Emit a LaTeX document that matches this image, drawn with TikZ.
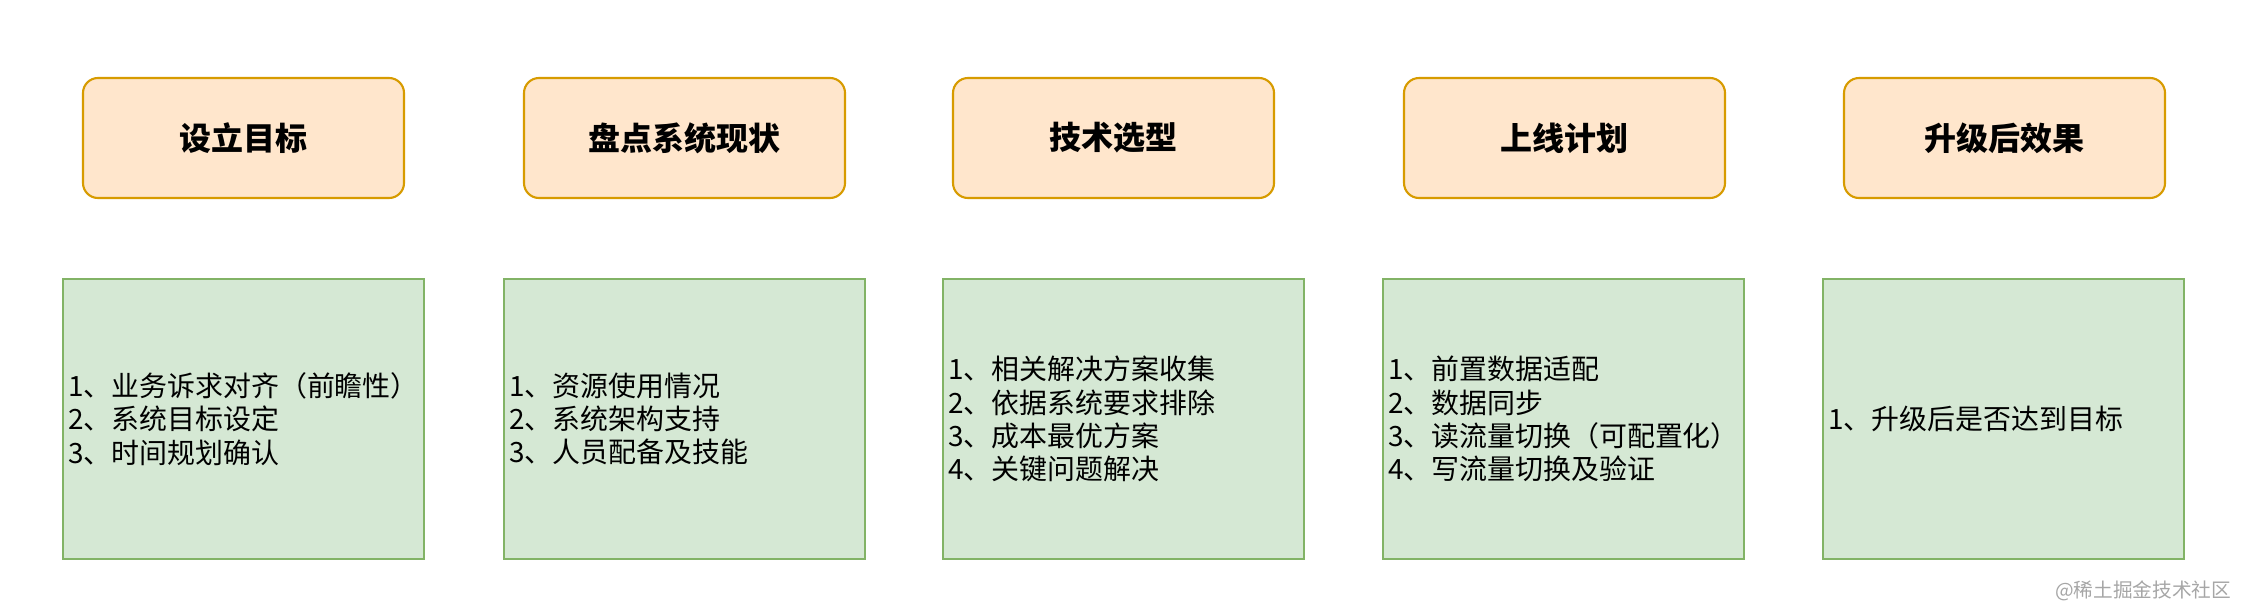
\documentclass[tikz,border=0pt]{standalone}
\usepackage{fontspec}
\setmainfont{Noto Sans CJK SC}
\newfontfamily\cjk{Noto Sans CJK SC}
\definecolor{stepfill}{HTML}{FFE6CC}
\definecolor{stepdraw}{HTML}{D79B00}
\definecolor{itemfill}{HTML}{D5E8D4}
\definecolor{itemdraw}{HTML}{82B366}

\begin{document}
\begin{tikzpicture}[
      stepbox/.style={rounded corners=0.15cm, minimum width=3.21cm, minimum height=1.2cm, inner sep=0pt, fill=stepfill, draw=stepdraw, line width=0.6pt, font=\cjk\fontsize{9.1pt}{11pt}\selectfont\bfseries},
      itembox/.style={minimum width=3.61cm, minimum height=2.8cm, text width=3.51cm, inner xsep=0.05cm, inner ysep=0pt, align=left, fill=itemfill, draw=itemdraw, line width=0.6pt, font=\cjk\fontsize{7.95pt}{9.45pt}\selectfont}
    ]
      \useasboundingbox (0,0) rectangle (22.44,6.08);

      % Step 1
      \node[stepbox] (goal) at (2.435, 4.70) {设立目标};
      \node[itembox] (goalitems) at (2.435, 1.89) {1、业务诉求对齐（前瞻性）\\2、系统目标设定\\3、时间规划确认};

      % Step 2
      \node[stepbox] (status) at (6.845, 4.70) {盘点系统现状};
      \node[itembox] (statusitems) at (6.845, 1.89) {1、资源使用情况\\2、系统架构支持\\3、人员配备及技能};

      % Step 3
      \node[stepbox] (tech) at (11.135, 4.70) {技术选型};
      \node[itembox] (techitems) at (11.235, 1.89) {1、相关解决方案收集\\2、依据系统要求排除\\3、成本最优方案\\4、关键问题解决};

      % Step 4
      \node[stepbox] (launch) at (15.645, 4.70) {上线计划};
      \node[itembox] (launchitems) at (15.635, 1.89) {1、前置数据适配\\2、数据同步\\3、读流量切换（可配置化）\\4、写流量切换及验证};

      % Step 5
      \node[stepbox] (result) at (20.045, 4.70) {升级后效果};
      \node[itembox] (resultitems) at (20.035, 1.89) {1、升级后是否达到目标};

      \node[anchor=east, text=gray!70, inner sep=0pt, font=\cjk\fontsize{5.6pt}{6pt}\selectfont] (mark) at (22.32, 0.17) {@稀土掘金技术社区};
    \end{tikzpicture}
\end{document}
